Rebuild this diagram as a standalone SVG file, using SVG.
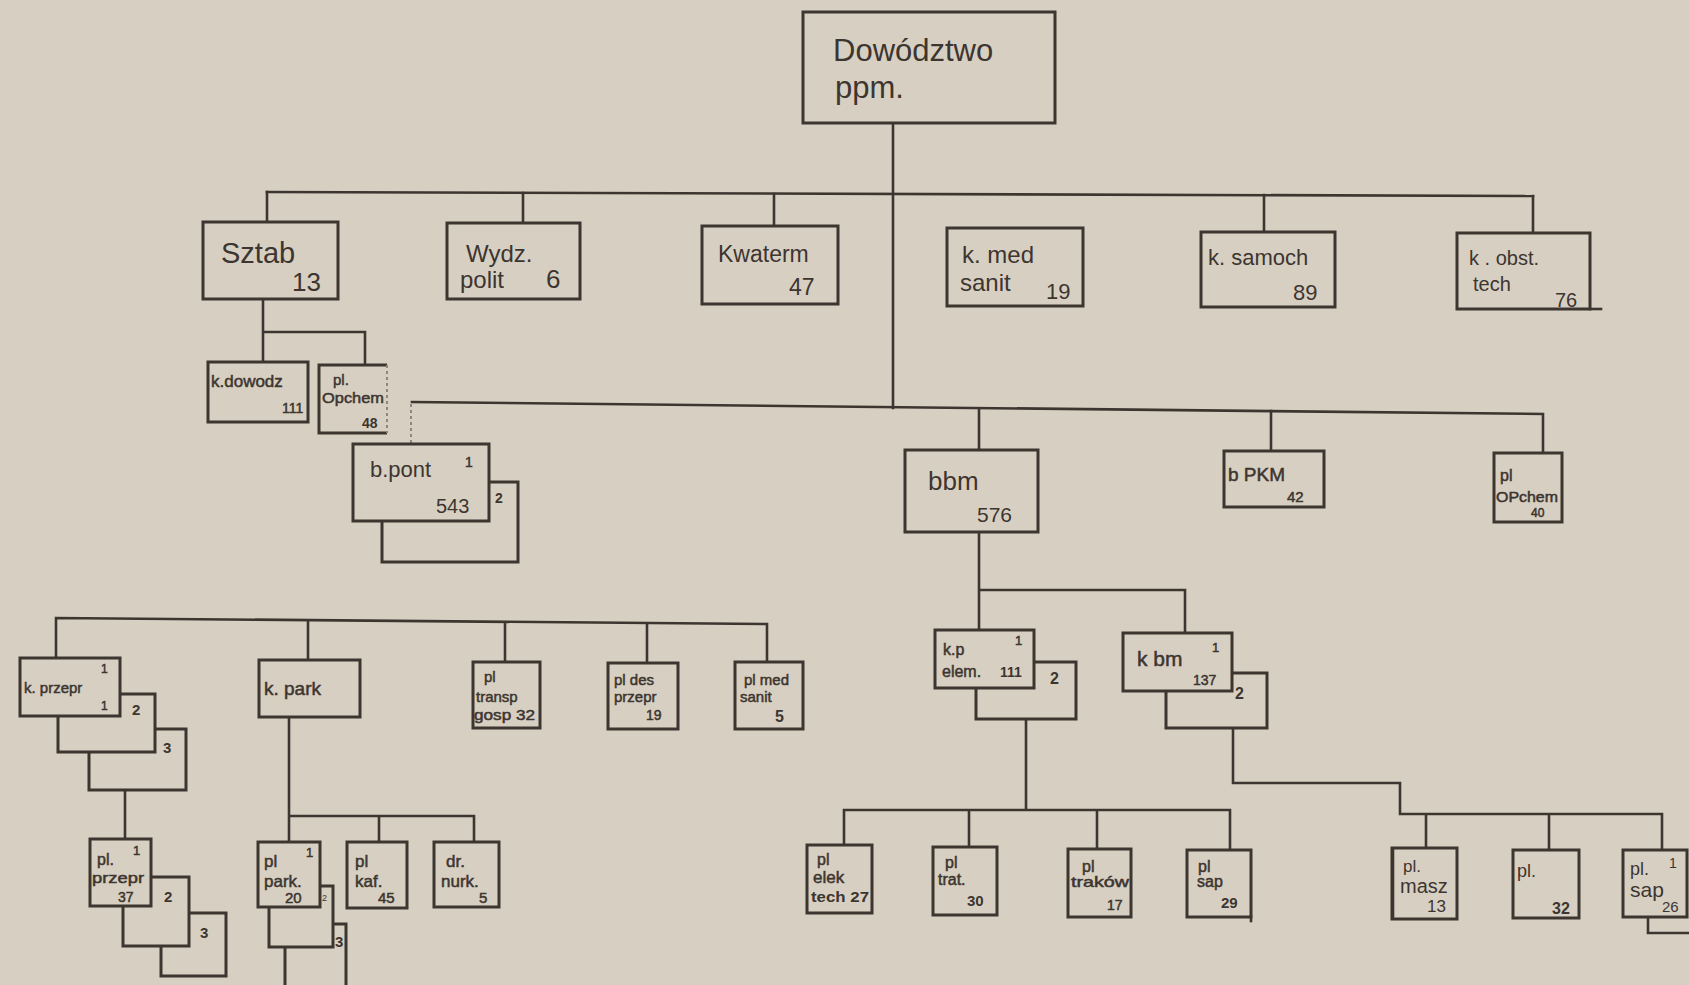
<svg xmlns="http://www.w3.org/2000/svg" width="1689" height="985" viewBox="0 0 1689 985">
<style>
.bx{fill:#d7d0c2;stroke:#3d3530;stroke-width:3}
.ln{fill:none;stroke:#3d3530;stroke-width:2.6;stroke-linecap:square}
.fd{fill:none;stroke:#8f877d;stroke-width:2;stroke-dasharray:3 3}
text{font-family:"Liberation Sans","DejaVu Sans",sans-serif;fill:#3d3530}
.b{font-weight:bold}
.s{stroke:#3d3530;stroke-width:0.5}
</style>
<rect width="1689" height="985" fill="#d7d0c2"/>
<g id="connectors">
<path class="ln" d="M893,123 V408"/>
<path class="ln" d="M267,192 L1533,196"/>
<path class="ln" d="M267,192 V222 M523,193 V223 M774,194 V226 M1264,195 V231 M1533,196 V233"/>
<path class="ln" d="M263,299 V362 M263,332 H365 V365"/>
<path class="ln" d="M412,402 L1543,414 V453"/>
<path class="fd" d="M411,404 V444"/>
<path class="ln" d="M979,409 V450 M1271,411 V451"/>
<path class="ln" d="M979,532 V630 M979,590 H1185 V633"/>
<path class="ln" d="M56,658 V618 L767,624 V662 M308,620 V660 M505,622 V662 M647,623 V663"/>
<path class="ln" d="M125,790 V839"/>
<path class="ln" d="M289,717 V842 M289,816 H474 V842 M379,816 V842"/>
<path class="ln" d="M1026,719 V810 M844,810 H1230 V850 M844,810 V845 M969,810 V847 M1097,810 V849"/>
<path class="ln" d="M1233,728 V783 H1400 V814 H1662 V850 M1426,814 V848 M1549,814 V850"/>
</g>
<g id="dowodztwo"><rect class="bx" x="803" y="12" width="252" height="111"/><text x="833" y="61" font-size="31">Dowództwo</text><text x="835" y="98" font-size="31">ppm.</text></g>
<g id="sztab"><rect class="bx" x="203" y="222" width="135" height="77"/><text x="221" y="263" font-size="29">Sztab</text><text x="292" y="291" font-size="26">13</text></g>
<g id="wydz"><rect class="bx" x="447" y="223" width="133" height="76"/><text x="466" y="262" font-size="24">Wydz.</text><text x="460" y="288" font-size="24">polit</text><text x="546" y="288" font-size="26">6</text></g>
<g id="kwaterm"><rect class="bx" x="702" y="226" width="136" height="78"/><text x="718" y="262" font-size="23">Kwaterm</text><text x="789" y="295" font-size="23">47</text></g>
<g id="kmed"><rect class="bx" x="947" y="228" width="136" height="78"/><text x="962" y="263" font-size="24">k. med</text><text x="960" y="291" font-size="24">sanit</text><text x="1046" y="299" font-size="22">19</text></g>
<g id="ksamoch"><rect class="bx" x="1201" y="232" width="134" height="75"/><text x="1208" y="265" font-size="22">k. samoch</text><text x="1293" y="300" font-size="22">89</text></g>
<g id="kobst"><rect class="bx" x="1457" y="233" width="133" height="76"/><path class="ln" d="M1590,309 H1601"/><text x="1469" y="265" font-size="20">k . obst.</text><text x="1473" y="291" font-size="20">tech</text><text x="1555" y="307" font-size="20">76</text></g>
<g id="kdowodz"><rect class="bx" x="208" y="362" width="100" height="60"/><text x="211" y="387" font-size="17" class="s">k.dowodz</text><text x="282" y="413" font-size="14" class="s">111</text></g>
<g id="plopchem1"><path class="bx" d="M387,365 H319 V433 H387"/><path class="fd" d="M387,365 V433"/><text x="333" y="385" font-size="15" class="s">pl.</text><text x="322" y="403" font-size="15" class="s" textLength="62" lengthAdjust="spacingAndGlyphs">Opchem</text><text x="362" y="428" font-size="14" class="b">48</text></g>
<g id="bpont"><rect class="bx" x="382" y="482" width="136" height="80"/><rect class="bx" x="353" y="444" width="136" height="77"/><text x="370" y="477" font-size="22">b.pont</text><text x="465" y="467" font-size="14" class="s">1</text><text x="436" y="513" font-size="20">543</text><text x="495" y="503" font-size="14" class="b">2</text></g>
<g id="bbm"><rect class="bx" x="905" y="450" width="133" height="82"/><text x="928" y="490" font-size="26">bbm</text><text x="977" y="522" font-size="21">576</text></g>
<g id="bpkm"><rect class="bx" x="1224" y="451" width="100" height="56"/><text x="1228" y="481" font-size="19" class="s">b PKM</text><text x="1287" y="502" font-size="15" class="s">42</text></g>
<g id="plopchem2"><rect class="bx" x="1494" y="453" width="68" height="69"/><text x="1500" y="481" font-size="16" class="s">pl</text><text x="1496" y="502" font-size="14" class="s" textLength="62" lengthAdjust="spacingAndGlyphs">OPchem</text><text x="1531" y="517" font-size="12" class="s">40</text></g>
<g id="kprzepr"><rect class="bx" x="89" y="729" width="97" height="61"/><rect class="bx" x="58" y="694" width="97" height="58"/><rect class="bx" x="20" y="658" width="100" height="58"/><text x="24" y="693" font-size="15" class="s">k. przepr</text><text x="101" y="673" font-size="12" class="s">1</text><text x="101" y="710" font-size="12" class="s">1</text><text x="132" y="715" font-size="15" class="b">2</text><text x="163" y="753" font-size="15" class="b">3</text></g>
<g id="kpark"><rect class="bx" x="259" y="660" width="101" height="57"/><text x="264" y="695" font-size="19" class="s">k. park</text></g>
<g id="pltransp"><rect class="bx" x="473" y="662" width="67" height="66"/><text x="484" y="682" font-size="15" class="s">pl</text><text x="476" y="702" font-size="15" class="s">transp</text><text x="474" y="720" font-size="15" class="s" textLength="61" lengthAdjust="spacingAndGlyphs">gosp 32</text></g>
<g id="pldes"><rect class="bx" x="608" y="663" width="70" height="66"/><text x="614" y="685" font-size="15" class="s">pl des</text><text x="614" y="702" font-size="15" class="s">przepr</text><text x="646" y="720" font-size="14" class="s">19</text></g>
<g id="plmed"><rect class="bx" x="735" y="662" width="68" height="67"/><text x="744" y="685" font-size="15" class="s">pl med</text><text x="740" y="702" font-size="15" class="s">sanit</text><text x="775" y="722" font-size="16" class="b">5</text></g>
<g id="kprzelem"><rect class="bx" x="976" y="662" width="100" height="57"/><rect class="bx" x="935" y="630" width="99" height="58"/><text x="943" y="655" font-size="16" class="s">k.p</text><text x="1015" y="645" font-size="13" class="s">1</text><text x="942" y="677" font-size="16" class="s">elem.</text><text x="1000" y="677" font-size="14" class="b">111</text><text x="1050" y="684" font-size="16" class="b">2</text></g>
<g id="kbm"><rect class="bx" x="1166" y="673" width="101" height="55"/><rect class="bx" x="1123" y="633" width="109" height="58"/><text x="1137" y="666" font-size="21" class="s">k bm</text><text x="1212" y="652" font-size="13" class="s">1</text><text x="1193" y="685" font-size="14" class="s">137</text><text x="1235" y="699" font-size="16" class="b">2</text></g>
<g id="plprzepr"><rect class="bx" x="161" y="913" width="65" height="63"/><rect class="bx" x="123" y="877" width="66" height="69"/><rect class="bx" x="90" y="839" width="61" height="67"/><text x="97" y="865" font-size="16" class="s">pl.</text><text x="133" y="855" font-size="13" class="s">1</text><text x="92" y="883" font-size="15" class="s" textLength="52" lengthAdjust="spacingAndGlyphs">przepr</text><text x="118" y="902" font-size="14" class="s">37</text><text x="164" y="902" font-size="15" class="b">2</text><text x="200" y="938" font-size="15" class="b">3</text></g>
<g id="plpark"><path class="bx" d="M285,988 V924 H346 V988"/><rect class="bx" x="269" y="886" width="64" height="61"/><rect class="bx" x="258" y="842" width="62" height="65"/><text x="264" y="867" font-size="17" class="s">pl</text><text x="306" y="857" font-size="13" class="s">1</text><text x="264" y="887" font-size="17" class="s">park.</text><text x="285" y="903" font-size="15" class="s">20</text><text x="322" y="901" font-size="9">2</text><text x="335" y="947" font-size="15" class="b">3</text></g>
<g id="plkaf"><rect class="bx" x="347" y="842" width="60" height="66"/><text x="355" y="867" font-size="17" class="s">pl</text><text x="355" y="887" font-size="17" class="s">kaf.</text><text x="378" y="903" font-size="15" class="s">45</text></g>
<g id="drnurk"><rect class="bx" x="434" y="842" width="65" height="65"/><text x="446" y="867" font-size="17" class="s">dr.</text><text x="441" y="887" font-size="17" class="s">nurk.</text><text x="479" y="903" font-size="15" class="s">5</text></g>
<g id="plelek"><rect class="bx" x="807" y="845" width="65" height="68"/><text x="817" y="865" font-size="16" class="s">pl</text><text x="813" y="883" font-size="17" class="s">elek</text><text x="811" y="902" font-size="15" class="b" textLength="58" lengthAdjust="spacingAndGlyphs">tech 27</text></g>
<g id="pltrat"><rect class="bx" x="933" y="847" width="64" height="68"/><text x="945" y="868" font-size="16" class="s">pl</text><text x="938" y="885" font-size="16" class="s">trat.</text><text x="967" y="906" font-size="15" class="b">30</text></g>
<g id="pltrakow"><rect class="bx" x="1068" y="849" width="63" height="68"/><text x="1082" y="872" font-size="16" class="s">pl</text><text x="1071" y="887" font-size="15" class="s" textLength="58" lengthAdjust="spacingAndGlyphs">traków</text><text x="1107" y="910" font-size="14" class="s">17</text></g>
<g id="plsap1"><rect class="bx" x="1187" y="850" width="64" height="67"/><path class="ln" d="M1251,917 V921"/><text x="1198" y="872" font-size="16" class="s">pl</text><text x="1197" y="887" font-size="16" class="s">sap</text><text x="1221" y="908" font-size="15" class="b">29</text></g>
<g id="plmasz"><rect class="bx" x="1392" y="848" width="65" height="71"/><path class="ln" d="M1393,850 V918" stroke-width="4"/><text x="1403" y="872" font-size="17">pl.</text><text x="1400" y="893" font-size="20">masz</text><text x="1427" y="912" font-size="17">13</text></g>
<g id="pl32"><rect class="bx" x="1513" y="850" width="66" height="68"/><text x="1517" y="877" font-size="18">pl.</text><text x="1552" y="914" font-size="16" class="b">32</text></g>
<g id="plsap2"><path class="ln" d="M1648,917 V933 H1689"/><rect class="bx" x="1623" y="850" width="64" height="67"/><text x="1630" y="875" font-size="18">pl.</text><text x="1669" y="868" font-size="14">1</text><text x="1630" y="897" font-size="21">sap</text><text x="1662" y="912" font-size="15">26</text></g>
</svg>
